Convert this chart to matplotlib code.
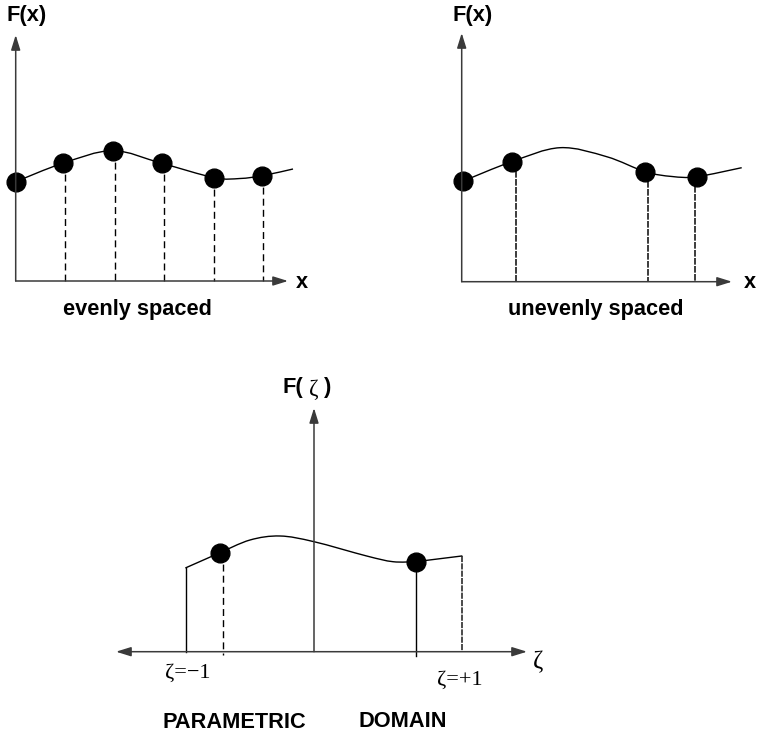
import numpy as np
import matplotlib
matplotlib.use("Agg")
import matplotlib.pyplot as plt
from matplotlib.path import Path
from matplotlib.patches import PathPatch

# Schematic in image units (x to the right, y downward)

# --- panel 1: evenly spaced nodes ---
p1_origin = (15.7, 281.0)
p1_ytip = 35.0
p1_xtip = 288.0
p1_nodes_x = [15.7, 62.7, 112.7, 161.7, 214.3, 262.3]
p1_nodes_f = [181.7, 163.3, 150.7, 163.3, 177.7, 175.7]
p1_drop_x = [65.3, 115.0, 164.0, 213.7, 263.3]
p1_drop_top = [163.3, 150.7, 163.3, 177.7, 175.7]
p1_curve_x = [15.7, 62.7, 112.7, 161.7, 214.3, 240.0, 262.3, 293.0]
p1_curve_f = [181.7, 163.3, 150.7, 163.3, 177.7, 178.5, 175.7, 169.0]

# --- panel 2: unevenly spaced nodes ---
p2_origin = (461.7, 281.7)
p2_ytip = 33.0
p2_xtip = 732.0
p2_nodes_x = [463.3, 511.7, 645.0, 696.7]
p2_nodes_f = [181.0, 161.7, 171.7, 176.7]
p2_drop_x = [516.0, 648.3, 695.0]
p2_drop_top = [163.0, 173.0, 178.0]
p2_curve_x = [463.3, 511.7, 560.0, 606.7, 645.0, 672.0, 696.7, 741.7]
p2_curve_f = [181.0, 161.7, 147.7, 156.7, 171.7, 176.5, 176.7, 167.7]

# --- panel 3: parametric domain ---
p3_origin = (314.0, 651.7)
p3_ytip = 408.0
p3_xleft = 116.0
p3_xright = 527.0
p3_nodes_x = [220.0, 415.7]
p3_nodes_f = [552.7, 561.7]
p3_solid_x = [186.0, 415.7]
p3_solid_top = [567.7, 561.7]
p3_solid_bot = [651.7, 656.0]
p3_dash_x = [222.7, 461.7]
p3_dash_top = [552.7, 556.0]
p3_dash_bot = [655.0, 651.7]
p3_curve_x = [220.0, 250.0, 280.0, 314.0, 366.7, 393.0, 415.7]
p3_curve_f = [552.7, 540.0, 536.0, 541.7, 556.0, 561.7, 561.7]
p3_left_end = (186.0, 567.7)
p3_right_end = (461.7, 556.0)

SANS = "Liberation Sans"
SERIF = "Liberation Serif"
AXC = "#3a3a3a"


def smooth_path(xs, ys):
    # Catmull-Rom curve through the points, as cubic Bezier segments
    pts = np.column_stack([xs, ys]).astype(float)
    ext = np.vstack([pts[0], pts, pts[-1]])
    verts = [tuple(pts[0])]
    codes = [Path.MOVETO]
    for i in range(1, len(ext) - 2):
        p0, p1, p2, p3 = ext[i - 1], ext[i], ext[i + 1], ext[i + 2]
        c1 = p1 + (p2 - p0) / 6.0
        c2 = p2 - (p3 - p1) / 6.0
        verts += [tuple(c1), tuple(c2), tuple(p2)]
        codes += [Path.CURVE4] * 3
    return Path(verts, codes)


def arrow(ax, start, tip, style="-|>"):
    ax.annotate("", xy=tip, xytext=start,
                arrowprops=dict(arrowstyle=style + ",head_length=0.9,head_width=0.28",
                                lw=1.1, color=AXC, shrinkA=0, shrinkB=0))


fig = plt.figure(figsize=(7.58, 7.33), dpi=100)
ax = fig.add_axes([0, 0, 1, 1])
ax.set_xlim(0, 758)
ax.set_ylim(733, 0)
ax.axis("off")

# panel 1
arrow(ax, p1_origin, (p1_origin[0], p1_ytip))
arrow(ax, p1_origin, (p1_xtip, p1_origin[1]))
ax.add_patch(PathPatch(smooth_path(p1_curve_x, p1_curve_f), fill=False, lw=1.0, color="k"))
for x, top in zip(p1_drop_x, p1_drop_top):
    ax.plot([x, x], [top, p1_origin[1]], color="k", lw=1.0, ls=(0, (5, 3)))
ax.plot(p1_nodes_x, p1_nodes_f, "o", color="k", ms=13.5, ls="none")
ax.text(6, 15, "F(x)", fontsize=15.7, fontweight="bold", family=SANS, ha="left", va="center")
ax.text(302, 283, "x", fontsize=15.7, fontweight="bold", family=SANS, ha="center", va="center")
ax.text(137.5, 310, "evenly spaced", fontsize=15.7, fontweight="bold", family=SANS,
        ha="center", va="center")

# panel 2
arrow(ax, p2_origin, (p2_origin[0], p2_ytip))
arrow(ax, p2_origin, (p2_xtip, p2_origin[1]))
ax.add_patch(PathPatch(smooth_path(p2_curve_x, p2_curve_f), fill=False, lw=1.0, color="k"))
for x, top in zip(p2_drop_x, p2_drop_top):
    ax.plot([x, x], [top, p2_origin[1]], color="#1a1a1a", lw=1.2, ls=(0, (4, 0.8)))
ax.plot(p2_nodes_x, p2_nodes_f, "o", color="k", ms=13.5, ls="none")
ax.text(452, 15, "F(x)", fontsize=15.7, fontweight="bold", family=SANS, ha="left", va="center")
ax.text(750, 283, "x", fontsize=15.7, fontweight="bold", family=SANS, ha="center", va="center")
ax.text(596, 310, "unevenly spaced", fontsize=15.7, fontweight="bold", family=SANS,
        ha="center", va="center")

# panel 3
arrow(ax, (p3_xleft, p3_origin[1]), (p3_xright, p3_origin[1]), style="<|-|>")
arrow(ax, p3_origin, (p3_origin[0], p3_ytip))
ax.add_patch(PathPatch(smooth_path(p3_curve_x, p3_curve_f), fill=False, lw=1.0, color="k"))
ax.plot([p3_left_end[0], p3_nodes_x[0]], [p3_left_end[1], p3_nodes_f[0]], color="k", lw=1.0)
ax.plot([p3_nodes_x[1], p3_right_end[0]], [p3_nodes_f[1], p3_right_end[1]], color="k", lw=1.0)
for x, top, bot in zip(p3_solid_x, p3_solid_top, p3_solid_bot):
    ax.plot([x, x], [top, bot], color="k", lw=1.0)
ax.plot([p3_dash_x[0]] * 2, [p3_dash_top[0], p3_dash_bot[0]], color="k", lw=1.0, ls=(0, (5, 3)))
ax.plot([p3_dash_x[1]] * 2, [p3_dash_top[1], p3_dash_bot[1]], color="#1a1a1a", lw=1.1,
        ls=(0, (4, 0.8)))
ax.plot(p3_nodes_x, p3_nodes_f, "o", color="k", ms=13.5, ls="none")

ax.text(283, 388, "F(", fontsize=15.7, fontweight="bold", family=SANS, ha="left", va="center")
ax.text(314, 389, "\u03b6", fontsize=16.5, family=SERIF, ha="center", va="center")
ax.text(323.5, 388, ")", fontsize=15.7, fontweight="bold", family=SANS, ha="left", va="center")
ax.text(538, 662, "\u03b6", fontsize=18, family=SERIF, ha="center", va="center")
ax.text(165, 673, "\u03b6=\u22121", fontsize=16, family=SERIF, ha="left", va="center")
ax.text(437, 680, "\u03b6=+1", fontsize=16, family=SERIF, ha="left", va="center")
ax.text(162, 728.5, "PARAMETRIC", fontsize=15.7, fontweight="bold", family=SANS,
        ha="left", va="baseline")
ax.text(359, 727, "DOMAIN", fontsize=15.7, fontweight="bold", family=SANS,
        ha="left", va="baseline")

fig.savefig("out.png", dpi=100)
